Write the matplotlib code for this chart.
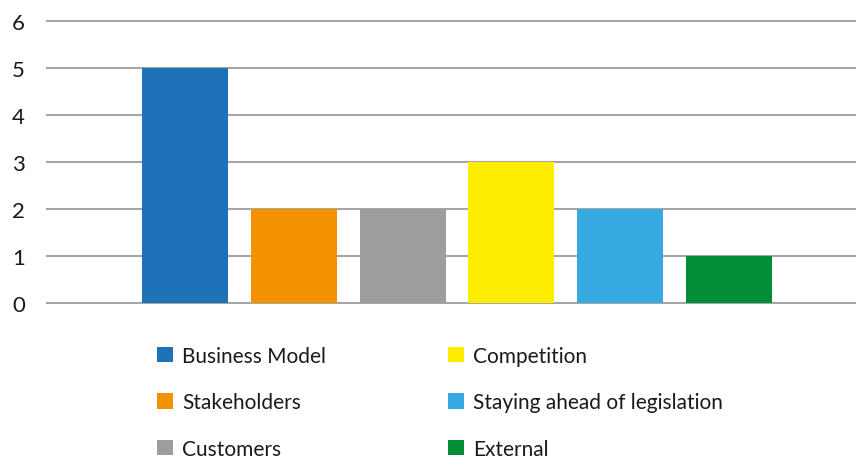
import matplotlib.pyplot as plt
from matplotlib.patches import Patch
import numpy as np

plt.rcParams['font.family'] = ['Lato', 'DejaVu Sans']

categories = ['Business Model', 'Stakeholders', 'Customers',
              'Competition', 'Staying ahead of legislation', 'External']
counts = [5, 2, 2, 3, 2, 1]
colors = ['#1f71b8', '#f39200', '#9d9d9c', '#ffed00', '#36a9e1', '#008d36']
yticks = [0, 1, 2, 3, 4, 5, 6]


def main():
    fig = plt.figure(figsize=(8.56, 4.6), dpi=100)
    ax = fig.add_axes([0.055, 0.339, 0.945, 0.613])

    x = np.arange(len(categories))
    ax.bar(x, counts, width=0.79, color=colors, zorder=3)

    ax.set_xlim(-1.27, 6.17)
    ax.set_ylim(0, 6)
    ax.set_yticks(yticks)
    ax.set_xticks([])
    ax.tick_params(axis='y', length=0, pad=16, labelsize=16, labelcolor='#1a1a1a')
    for s in ax.spines.values():
        s.set_visible(False)
    ax.yaxis.grid(True, color='#a6a6a6', linewidth=1.5, zorder=0)
    for gl in ax.get_ygridlines():
        gl.set_clip_on(False)

    handles = [Patch(facecolor=c, edgecolor='none') for c in colors]
    fig.legend(handles, categories, ncol=2, frameon=False, fontsize=15,
               loc='upper left', bbox_to_anchor=(0.183, 0.246),
               handlelength=0.77, handleheight=0.77, handletextpad=0.45,
               labelspacing=1.27, columnspacing=5.85, borderaxespad=0,
               borderpad=0, labelcolor='#1a1a1a')

    fig.savefig('out.png', dpi=100)


if __name__ == '__main__':
    main()
